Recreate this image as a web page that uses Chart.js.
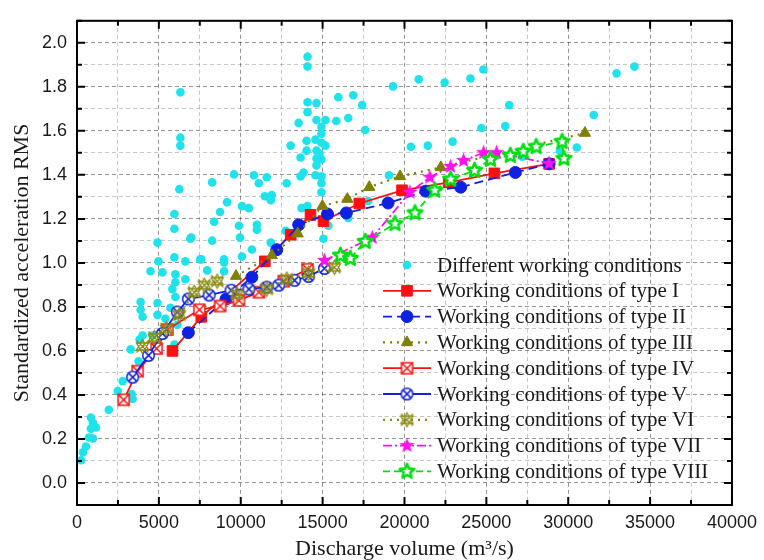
<!DOCTYPE html>
<html>
<head>
<meta charset="utf-8">
<script src="https://cdn.jsdelivr.net/npm/chart.js@4.4.1/dist/chart.umd.min.js"></script>
<style>
  html, body { margin: 0; padding: 0; background: #fff; }
  #wrap { width: 764px; height: 560px; }
</style>
</head>
<body>
<div id="wrap"><canvas id="chart" width="764" height="560"></canvas></div>
<script>
// --- data (discharge m3/s, standardized RMS) ---
const diffX = [243, 364, 546, 728, 971, 850, 1153, 850, 971, 1942, 2488, 2791, 3337, 3398, 3762, 3277, 4005, 4612, 5947, 3883,
  3883, 4005, 4915, 4915, 5400, 6007, 5825, 6007, 6614, 6007, 5218, 4490, 4976, 5947, 6614, 7524, 4915, 5947, 5947, 6918,
  6250, 6311, 6311, 6311, 5704, 6129, 3823, 8253, 9587, 10801, 11104, 11590, 12803, 9163, 10073, 10498, 8738, 8374, 11468, 11893,
  11833, 6978, 8253, 9891, 9951, 10983, 10983, 12743, 11833, 10680, 8981, 8981, 7585, 7949, 10073, 8981, 14078, 14078, 14078, 14624,
  14078, 13532, 14624, 15170, 15837, 16566, 15959, 16869, 17415, 17597, 14927, 14927, 13046, 14017, 14563, 14927, 14017, 14624, 15170, 13653,
  14624, 14927, 14624, 13835, 13653, 14563, 14927, 14927, 14927, 14806, 13714, 14078, 17779, 16566, 15352, 15049, 19054, 19296, 20874, 22452,
  24029, 24818, 26396, 26153, 24697, 20389, 21420, 22937, 27185, 29491, 30522, 31554, 32950, 34042];
const diffY = [0.103, 0.139, 0.166, 0.207, 0.202, 0.247, 0.252, 0.297, 0.274, 0.333, 0.418, 0.463, 0.404, 0.382, 0.553, 0.607, 0.670, 0.670, 0.629, 0.822,
  0.787, 0.755, 0.818, 0.764, 0.746, 0.845, 0.881, 0.912, 0.926, 0.948, 0.957, 0.962, 1.007, 1.025, 1.007, 1.016, 1.092, 1.155, 1.222, 1.110,
  1.335, 1.533, 1.569, 1.775, 0.796, 0.719, 0.652, 1.366, 1.402, 1.398, 1.362, 1.389, 1.362, 1.276, 1.258, 1.249, 1.231, 1.187, 1.303, 1.308,
  1.285, 1.115, 1.101, 1.169, 1.115, 1.173, 1.151, 1.146, 1.092, 1.061, 1.016, 1.002, 1.016, 0.966, 1.029, 0.962, 1.937, 1.892, 1.730, 1.726,
  1.685, 1.636, 1.649, 1.649, 1.645, 1.658, 1.753, 1.762, 1.717, 1.604, 1.618, 1.587, 1.533, 1.555, 1.560, 1.546, 1.510, 1.510, 1.533, 1.479,
  1.474, 1.470, 1.443, 1.411, 1.393, 1.398, 1.393, 1.362, 1.321, 1.497, 1.249, 1.258, 1.281, 1.204, 1.169, 1.110, 1.398, 1.802, 1.834, 1.820,
  1.838, 1.879, 1.717, 1.622, 1.613, 1.528, 1.533, 1.551, 1.483, 1.510, 1.524, 1.672, 1.861, 1.892];

const t1X = [5830, 7590, 11470, 13050, 14260, 15050, 17240, 19850, 22700, 25490, 28830];
const t1Y = [0.60, 0.755, 1.007, 1.128, 1.218, 1.19, 1.27, 1.33, 1.366, 1.407, 1.45];
const t2X = [6800, 9100, 10680, 12200, 13540, 15300, 16450, 19000, 21300, 23430, 26770, 28830];
const t2Y = [0.683, 0.836, 0.935, 1.06, 1.173, 1.222, 1.227, 1.272, 1.326, 1.344, 1.411, 1.45];
const t3X = [9710, 11900, 13480, 14990, 16510, 17850, 19730, 22220, 31020];
const t3Y = [0.94, 1.034, 1.133, 1.258, 1.29, 1.344, 1.393, 1.434, 1.59];
const t4X = [2850, 3700, 4860, 5520, 7470, 8740, 9890, 11110, 12630, 14080];
const t4Y = [0.378, 0.508, 0.611, 0.697, 0.787, 0.804, 0.83, 0.867, 0.917, 0.971];
const t5X = [3400, 4370, 5220, 6130, 6800, 8070, 9410, 10500, 11590, 12320, 13290, 14140, 15110];
const t5Y = [0.481, 0.58, 0.679, 0.777, 0.836, 0.854, 0.876, 0.881, 0.89, 0.899, 0.921, 0.939, 0.975];
const t6X = [4000, 4730, 5460, 6250, 7160, 7770, 8560, 9770, 11590, 12810, 14140, 15720];
const t6Y = [0.62, 0.661, 0.70, 0.764, 0.867, 0.899, 0.917, 0.858, 0.881, 0.926, 0.953, 0.98];
const t7X = [15110, 18030, 20330, 21550, 22820, 23610, 24830, 25620, 28830];
const t7Y = [1.011, 1.115, 1.321, 1.389, 1.438, 1.465, 1.501, 1.501, 1.452];
const t8X = [16090, 16690, 17600, 19420, 20640, 21850, 22820, 24280, 25250, 26460, 27250, 28040, 29620, 29740];
const t8Y = [1.034, 1.02, 1.097, 1.178, 1.227, 1.33, 1.38, 1.42, 1.47, 1.488, 1.506, 1.528, 1.551, 1.474];

const labels = [
  'Different working conditions',
  'Working conditions of type I',
  'Working conditions of type II',
  'Working conditions of type III',
  'Working conditions of type IV',
  'Working conditions of type V',
  'Working conditions of type VI',
  'Working conditions of type VII',
  'Working conditions of type VIII'
];

const pts = (xs, ys) => xs.map((x, i) => ({ x: x, y: ys[i] }));

// --- custom marker images (Origin-like symbols) ---
function marker(size, draw) {
  const c = document.createElement('canvas');
  c.width = size; c.height = size;
  draw(c.getContext('2d'), size / 2);
  return c;
}
function starPath(g, c, ro, ri) {
  g.beginPath();
  for (let i = 0; i < 10; i++) {
    const r = i % 2 ? ri : ro;
    const a = -Math.PI / 2 + i * Math.PI / 5;
    g.lineTo(c + r * Math.cos(a), c + r * Math.sin(a));
  }
  g.closePath();
}
const boxX = marker(15, (g, c) => {
  g.fillStyle = '#fff';
  g.fillRect(c - 5.5, c - 5.5, 11, 11);
  g.strokeStyle = '#ff1010'; g.lineWidth = 1.5;
  g.strokeRect(c - 5.5, c - 5.5, 11, 11);
  g.beginPath();
  g.moveTo(c - 5.5, c - 5.5); g.lineTo(c + 5.5, c + 5.5);
  g.moveTo(c + 5.5, c - 5.5); g.lineTo(c - 5.5, c + 5.5);
  g.stroke();
});
const circleX = marker(15, (g, c) => {
  g.fillStyle = '#fff';
  g.strokeStyle = '#1020e0'; g.lineWidth = 1.5;
  g.beginPath(); g.arc(c, c, 5.8, 0, Math.PI * 2); g.fill(); g.stroke();
  const d = 5.8 * Math.SQRT1_2;
  g.beginPath();
  g.moveTo(c - d, c - d); g.lineTo(c + d, c + d);
  g.moveTo(c + d, c - d); g.lineTo(c - d, c + d);
  g.stroke();
});
const hexX = marker(17, (g, c) => {
  g.strokeStyle = '#8a8a10'; g.lineWidth = 1.3;
  g.beginPath();
  g.moveTo(c, c - 7); g.lineTo(c + 6.1, c + 3.5); g.lineTo(c - 6.1, c + 3.5); g.closePath();
  g.moveTo(c, c + 7); g.lineTo(c + 6.1, c - 3.5); g.lineTo(c - 6.1, c - 3.5); g.closePath();
  g.moveTo(c - 6, c - 6); g.lineTo(c + 6, c + 6);
  g.moveTo(c + 6, c - 6); g.lineTo(c - 6, c + 6);
  g.stroke();
});
const fullStar = marker(17, (g, c) => {
  g.fillStyle = '#ff10f0';
  starPath(g, c, 8, 3.4);
  g.fill();
});
const openStar = marker(19, (g, c) => {
  g.fillStyle = '#fff';
  g.strokeStyle = '#00e010'; g.lineWidth = 2.6; g.lineJoin = 'round';
  starPath(g, c, 7.6, 3.5);
  g.fill(); g.stroke();
});

function series(label, data, color, style, radius, dash, order) {
  return {
    label: label, data: data, showLine: true, order: order,
    borderColor: color, borderWidth: 1.8, borderDash: dash,
    pointStyle: style, pointRadius: radius, pointHoverRadius: radius,
    pointBackgroundColor: color, pointBorderColor: color, pointBorderWidth: 1,
    tension: 0
  };
}

const datasets = [
  {
    label: labels[0], data: pts(diffX, diffY), showLine: false, order: 20,
    pointStyle: 'circle', pointRadius: 4.3, pointHoverRadius: 4.3,
    pointBackgroundColor: '#1fe3ea', pointBorderColor: '#1fe3ea', pointBorderWidth: 0,
    borderColor: '#1fe3ea'
  },
  series(labels[1], pts(t1X, t1Y), '#ff1010', 'rect', 7.5, [], 8),
  series(labels[2], pts(t2X, t2Y), '#1020e0', 'circle', 6, [9, 5], 7),
  series(labels[3], pts(t3X, t3Y), '#7f7f00', 'triangle', 6.5, [2, 5], 6),
  series(labels[4], pts(t4X, t4Y), '#ff1010', boxX, 6, [], 5),
  series(labels[5], pts(t5X, t5Y), '#1020e0', circleX, 6, [], 4),
  series(labels[6], pts(t6X, t6Y), '#8a8a10', hexX, 6, [2, 5], 3),
  series(labels[7], pts(t7X, t7Y), '#ff10f0', fullStar, 6, [9, 3, 2, 3], 2),
  series(labels[8], pts(t8X, t8Y), '#00e010', openStar, 6, [7, 4], 1)
];
datasets[3].borderWidth = 2.2;
datasets[6].borderWidth = 2.2;

// frame with inward ticks on all four sides
const frameTicks = {
  id: 'frameTicks',
  afterDatasetsDraw(chart) {
    const { ctx, chartArea: a, scales } = chart;
    const xs = scales.x, ys = scales.y;
    ctx.save();
    ctx.strokeStyle = '#000';
    ctx.lineWidth = 2;
    ctx.strokeRect(a.left, a.top, a.right - a.left, a.bottom - a.top);
    ctx.beginPath();
    xs.ticks.forEach(t => {
      const p = xs.getPixelForValue(t.value);
      const len = Math.round(t.value) % 5000 === 0 ? 8 : 5;
      ctx.moveTo(p, a.bottom); ctx.lineTo(p, a.bottom - len);
      ctx.moveTo(p, a.top); ctx.lineTo(p, a.top + len);
    });
    ys.ticks.forEach(t => {
      const p = ys.getPixelForValue(t.value);
      const len = Math.round(t.value * 10) % 2 === 0 ? 8 : 5;
      ctx.moveTo(a.left, p); ctx.lineTo(a.left + len, p);
      ctx.moveTo(a.right, p); ctx.lineTo(a.right - len, p);
    });
    ctx.stroke();
    ctx.restore();
  }
};

// legend drawn inside the plot, no box
const insideLegend = {
  id: 'insideLegend',
  afterDraw(chart) {
    const ctx = chart.ctx;
    const x0 = 383, x1 = 431, mx = 407, tx = 437, y0 = 265, dy = 25.8;
    ctx.save();
    chart.data.datasets.forEach((ds, i) => {
      const y = y0 + i * dy;
      if (ds.showLine) {
        ctx.strokeStyle = ds.borderColor;
        ctx.lineWidth = ds.borderWidth;
        ctx.setLineDash(ds.borderDash || []);
        ctx.beginPath(); ctx.moveTo(x0, y); ctx.lineTo(x1, y); ctx.stroke();
        ctx.setLineDash([]);
      }
      ctx.fillStyle = ds.pointBackgroundColor;
      ctx.strokeStyle = ds.pointBorderColor;
      ctx.lineWidth = ds.pointBorderWidth;
      Chart.helpers.drawPoint(ctx, {
        pointStyle: ds.pointStyle, radius: ds.pointRadius, rotation: 0, borderWidth: ds.pointBorderWidth
      }, mx, y);
      ctx.fillStyle = '#1a1a1a';
      ctx.font = '21px "Liberation Serif"';
      ctx.textBaseline = 'middle';
      ctx.fillText(ds.label, tx, y + 1);
    });
    ctx.restore();
  }
};

new Chart(document.getElementById('chart'), {
  type: 'scatter',
  data: { datasets: datasets },
  plugins: [frameTicks, insideLegend],
  options: {
    responsive: false,
    animation: false,
    layout: { padding: { top: 15, right: 28, left: 0, bottom: 0 } },
    plugins: { legend: { display: false }, tooltip: { enabled: false } },
    scales: {
      x: {
        type: 'linear', min: 0, max: 40000,
        afterFit: s => { s.height = 55; },
        ticks: {
          stepSize: 2500, autoSkip: false, maxRotation: 0, padding: 7,
          color: '#1a1a1a', font: { family: '"Liberation Sans"', size: 18 },
          callback: v => (Math.round(v) % 5000 === 0 ? String(v) : '')
        },
        grid: {
          drawTicks: false,
          color: c => (Math.round(c.tick.value) % 5000 === 0 ? 'rgba(0,0,0,0.42)' : 'rgba(0,0,0,0.22)'),
          lineWidth: 1
        },
        border: { display: false, dash: [4, 3] },
        title: {
          display: true, text: 'Discharge volume (m³/s)', color: '#1a1a1a',
          font: { family: '"Liberation Serif"', size: 22, lineHeight: 1 }, padding: { top: 0, bottom: 0 }
        }
      },
      y: {
        type: 'linear', min: -0.1, max: 2.1,
        afterFit: s => { s.width = 77; },
        ticks: {
          stepSize: 0.1, autoSkip: false, padding: 10,
          color: '#1a1a1a', font: { family: '"Liberation Sans"', size: 18 },
          callback: v => {
            const k = Math.round(v * 10);
            return k % 2 === 0 ? (k / 10).toFixed(1) : '';
          }
        },
        grid: {
          drawTicks: false,
          color: c => (Math.round(c.tick.value * 10) % 2 === 0 ? 'rgba(0,0,0,0.42)' : 'rgba(0,0,0,0.22)'),
          lineWidth: 1
        },
        border: { display: false, dash: [4, 3] },
        title: {
          display: true, text: 'Standardized acceleration RMS', color: '#1a1a1a',
          font: { family: '"Liberation Serif"', size: 22, lineHeight: 1 }, padding: { top: 11, bottom: 0 }
        }
      }
    }
  }
});
</script>
</body>
</html>
